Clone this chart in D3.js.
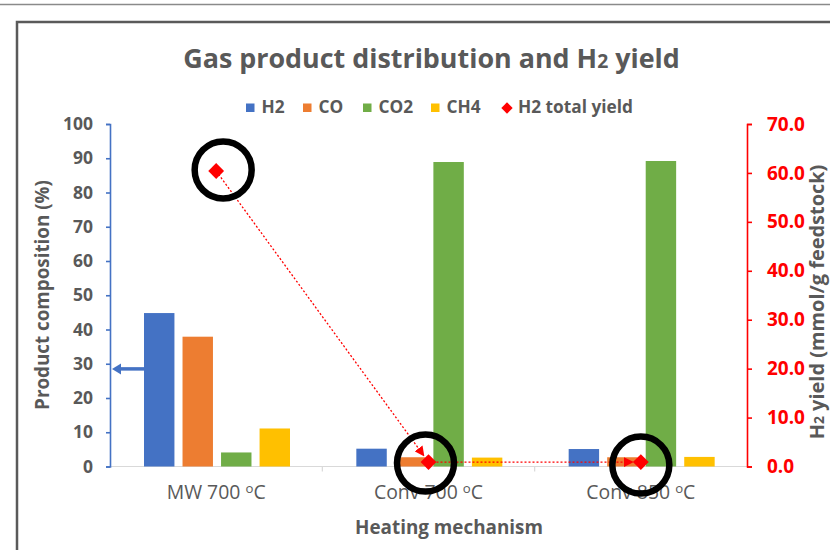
<!DOCTYPE html>
<html>
<head>
<meta charset="utf-8">
<script src="https://cdn.jsdelivr.net/npm/d3@7"></script>
<style>
  html, body { margin: 0; padding: 0; background: #ffffff; }
  svg { display: block; }
  text { font-family: "Open Sans", Lato, "Noto Sans", sans-serif; }
</style>
</head>
<body>
<svg id="chart" width="830" height="550"></svg>
<script>
// Heating mechanisms on the x axis
const categories = ["MW 700", "Conv 700", "Conv 850"];
// Gas composition (%) per mechanism
const seriesNames = ["H2", "CO", "CO2", "CH4"];
const h2Values  = [44.8, 5.2, 5.1];
const coValues  = [37.9, 2.7, 2.7];
const co2Values = [4.1, 88.9, 89.2];
const ch4Values = [11.1, 2.6, 2.8];
// Total H2 yield (mmol/g feedstock)
const yieldValues = [60.4, 0.9, 0.9];
// Axis ticks
const leftTicks  = [0, 10, 20, 30, 40, 50, 60, 70, 80, 90, 100];
const rightTicks = [0, 10, 20, 30, 40, 50, 60, 70];

const colors = { H2: "#4472C4", CO: "#ED7D31", CO2: "#70AD47", CH4: "#FFC000" };
const gray = "#595959";
const red = "#FF0000";

const svg = d3.select("#chart");

// Scale a text's font size so that its rendered width equals the given width
function fitWidth(sel, width) {
  const node = sel.node();
  const fs = parseFloat(sel.attr("font-size"));
  const w = node.getComputedTextLength();
  const size = fs * width / w;
  sel.attr("font-size", size);
  return size;
}

// Outer frame
svg.append("line").attr("x1", 0).attr("x2", 830).attr("y1", 4.5).attr("y2", 4.5)
  .attr("stroke", "#8a8a8a").attr("stroke-width", 1.5);
svg.append("rect").attr("x", 17).attr("y", 22).attr("width", 840).attr("height", 560)
  .attr("fill", "#fff").attr("stroke", "#5a5a5a").attr("stroke-width", 2.5);

const plot = { left: 110, right: 747, top: 124, bottom: 466.5 };

const x0 = d3.scaleBand().domain(categories).range([plot.left, plot.right]).padding(0);
const x1 = d3.scaleBand().domain(seriesNames).range([34, 180]).paddingInner(0.21).paddingOuter(0);
const yL = d3.scaleLinear().domain([0, 100]).range([plot.bottom, plot.top]);
const yR = d3.scaleLinear().domain([0, 70]).range([plot.bottom, plot.top]);

const table = categories.map((c, i) => ({
  cat: c,
  H2: h2Values[i], CO: coValues[i], CO2: co2Values[i], CH4: ch4Values[i],
  yld: yieldValues[i]
}));

// Title
const title = svg.append("text").attr("x", 431.5).attr("y", 68).attr("text-anchor", "middle")
  .attr("fill", gray).attr("font-size", 22).attr("font-weight", 700);
title.append("tspan").text("Gas product distribution and H");
title.append("tspan").attr("font-size", "0.72em").text("2");
title.append("tspan").text(" yield");
fitWidth(title, 497);

// Legend
const legend = svg.append("g").attr("font-weight", 700).attr("fill", gray);
const lastLabel = legend.append("text").attr("x", 518).attr("y", 113).attr("font-size", 14)
  .text("H2 total yield");
const legendSize = fitWidth(lastLabel, 115);
legend.append("path").attr("d", d3.symbol(d3.symbolSquare, 64)())
  .attr("transform", "translate(507,108) rotate(45)").attr("fill", red);
const legendItems = [
  { name: "H2", x: 246 }, { name: "CO", x: 303 }, { name: "CO2", x: 363 }, { name: "CH4", x: 431 }
];
legendItems.forEach(d => {
  legend.append("rect").attr("x", d.x).attr("y", 103.5).attr("width", 8.5).attr("height", 8.5)
    .attr("fill", colors[d.name]);
  legend.append("text").attr("x", d.x + 15.5).attr("y", 113).attr("font-size", legendSize).text(d.name);
});

// X axis baseline and category dividers
svg.append("line").attr("x1", plot.left).attr("x2", plot.right)
  .attr("y1", plot.bottom).attr("y2", plot.bottom).attr("stroke", "#d9d9d9").attr("stroke-width", 1.2);
categories.slice(1).forEach(c => {
  svg.append("line").attr("x1", x0(c)).attr("x2", x0(c)).attr("y1", plot.bottom).attr("y2", plot.bottom + 5)
    .attr("stroke", "#d9d9d9").attr("stroke-width", 1.2);
});

// Bars
const groups = svg.append("g").selectAll("g").data(table).join("g")
  .attr("transform", d => `translate(${x0(d.cat)},0)`);
groups.selectAll("rect").data(d => seriesNames.map(k => ({ key: k, value: d[k] }))).join("rect")
  .attr("x", d => x1(d.key))
  .attr("width", x1.bandwidth())
  .attr("y", d => yL(d.value))
  .attr("height", d => yL(0) - yL(d.value))
  .attr("fill", d => colors[d.key]);

// Left axis
const axL = svg.append("g").attr("transform", `translate(${plot.left},0)`)
  .call(d3.axisLeft(yL).tickValues(leftTicks).tickSize(4).tickPadding(13));
axL.select(".domain").attr("stroke", "#4472C4").attr("stroke-width", 1.6);
axL.selectAll(".tick line").attr("stroke", "#4472C4").attr("stroke-width", 1.6);
axL.selectAll(".tick text").attr("fill", gray).attr("font-size", 14).attr("font-weight", 700)
  .attr("font-family", "'Open Sans', sans-serif");
const lSize = fitWidth(axL.selectAll(".tick text").filter(d => d === 100), 30);
axL.selectAll(".tick text").attr("font-size", lSize);

// Right axis
const axR = svg.append("g").attr("transform", `translate(${plot.right},0)`)
  .call(d3.axisRight(yR).tickValues(rightTicks).tickFormat(d3.format(".1f")).tickSize(5).tickPadding(15));
axR.select(".domain").attr("stroke", red).attr("stroke-width", 1.6);
axR.selectAll(".tick line").attr("stroke", red).attr("stroke-width", 1.6);
axR.selectAll(".tick text").attr("fill", red).attr("font-size", 14).attr("font-weight", 700)
  .attr("font-family", "'Open Sans', sans-serif");
const rSize = fitWidth(axR.selectAll(".tick text").filter(d => d === 70), 38);
axR.selectAll(".tick text").attr("font-size", rSize);

// Category labels (with superscript degree mark)
const catLabels = svg.append("g").attr("fill", gray);
let catSize = null;
categories.forEach((c, i) => {
  const t = catLabels.append("text").attr("x", x0(c) + x0.bandwidth() / 2).attr("y", 499)
    .attr("text-anchor", "middle").attr("font-size", catSize || 15);
  t.append("tspan").text(c + " ");
  t.append("tspan").attr("font-size", "0.68em").attr("dy", "-0.45em").text("o");
  t.append("tspan").attr("dy", "0.306em").text("C");
  if (i === 0) catSize = fitWidth(t, 99);
});

// Axis titles
const xTitle = svg.append("text").attr("x", 449).attr("y", 534).attr("text-anchor", "middle")
  .attr("fill", gray).attr("font-size", 17).attr("font-weight", 700).text("Heating mechanism");
fitWidth(xTitle, 188);
const lTitle = svg.append("text").attr("transform", "translate(49,295) rotate(-90)").attr("text-anchor", "middle")
  .attr("fill", gray).attr("font-size", 17).attr("font-weight", 700).text("Product composition (%)");
fitWidth(lTitle, 230);
const rTitle = svg.append("text").attr("transform", "translate(824,302) rotate(-90)").attr("text-anchor", "middle")
  .attr("fill", gray).attr("font-size", 17).attr("font-weight", 700);
rTitle.append("tspan").text("H");
rTitle.append("tspan").attr("font-size", "0.7em").text("2");
rTitle.append("tspan").text(" yield (mmol/g feedstock)");
fitWidth(rTitle, 275);

// Yield line: dotted segments ending in arrowheads
const defs = svg.append("defs");
defs.append("marker").attr("id", "arrow").attr("viewBox", "0 0 10 10")
  .attr("refX", 8).attr("refY", 5).attr("markerWidth", 10).attr("markerHeight", 10)
  .attr("markerUnits", "userSpaceOnUse").attr("orient", "auto")
  .append("path").attr("d", "M0,0 L10,5 L0,10 Z").attr("fill", red);

const pts = table.map(d => [x0(d.cat) + x0.bandwidth() / 2, yR(d.yld)]);
for (let i = 0; i < pts.length - 1; i++) {
  const [ax, ay] = pts[i], [bx, by] = pts[i + 1];
  const len = Math.hypot(bx - ax, by - ay);
  const ux = (bx - ax) / len, uy = (by - ay) / len;
  const ex = bx - ux * 9, ey = by - uy * 9;
  svg.append("line").attr("x1", ax).attr("y1", ay).attr("x2", ex).attr("y2", ey)
    .attr("stroke", red).attr("stroke-width", 1.3).attr("stroke-dasharray", "2,2")
    .attr("marker-end", "url(#arrow)");
}
svg.append("g").selectAll("path").data(pts).join("path")
  .attr("d", d3.symbol(d3.symbolSquare, 125)())
  .attr("transform", d => `translate(${d[0]},${d[1]}) rotate(45)`)
  .attr("fill", red);

// Annotation: arrow pointing bars to the left axis
svg.append("line").attr("x1", x0(categories[0]) + x1("H2")).attr("x2", plot.left + 8)
  .attr("y1", yL(28.5)).attr("y2", yL(28.5)).attr("stroke", "#4472C4").attr("stroke-width", 3.5);
svg.append("path").attr("d", `M${plot.left + 2},${yL(28.5)} l9,-5.5 l0,11 Z`).attr("fill", "#4472C4");

// Annotation: circles highlighting yield points
const circleOffsets = [[7, -1], [-3, 1], [0, 3]];
svg.append("g").selectAll("circle").data(pts).join("circle")
  .attr("cx", (d, i) => d[0] + circleOffsets[i][0])
  .attr("cy", (d, i) => d[1] + circleOffsets[i][1])
  .attr("r", 28.5)
  .attr("fill", "none").attr("stroke", "#000").attr("stroke-width", 6.5);
</script>
</body>
</html>
